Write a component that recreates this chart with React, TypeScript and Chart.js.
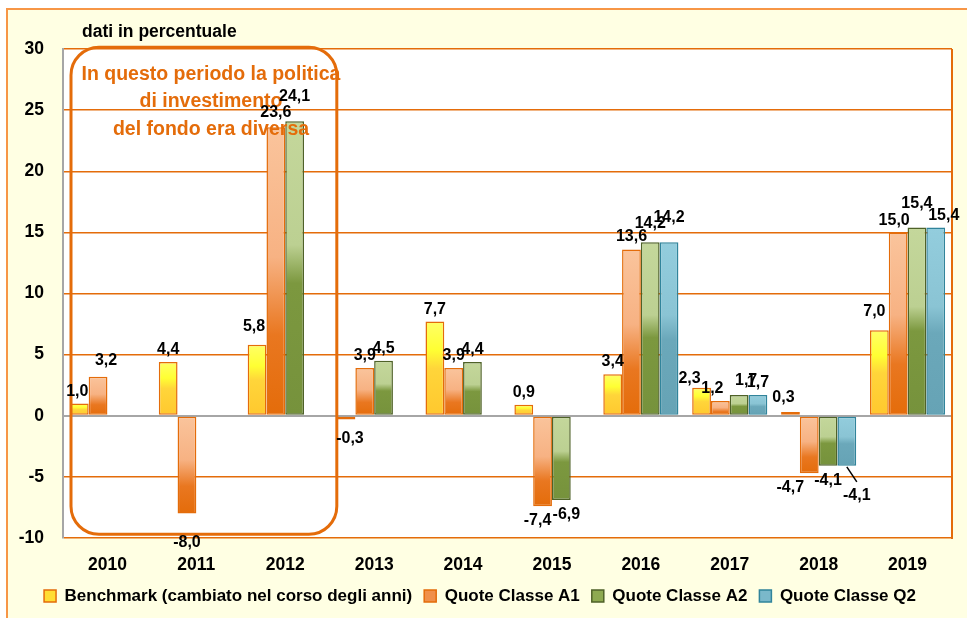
import React, { useEffect, useRef } from 'react';
import { Chart, registerables } from 'chart.js';
Chart.register(...registerables);

const categories = ['2010', '2011', '2012', '2013', '2014', '2015', '2016', '2017', '2018', '2019'];
const benchmark = [1.0, 4.4, 5.8, -0.3, 7.7, 0.9, 3.4, 2.3, 0.3, 7.0];
const classeA1 = [3.2, -8.0, 23.6, 3.9, 3.9, -7.4, 13.6, 1.2, -4.7, 15.0];
const classeA2 = [null, null, 24.1, 4.5, 4.4, -6.9, 14.2, 1.7, -4.1, 15.4];
const classeQ2 = [null, null, null, null, null, null, 14.2, 1.7, -4.1, 15.4];
const seriesNames = [
  'Benchmark (cambiato nel corso degli anni)',
  'Quote Classe A1',
  'Quote Classe A2',
  'Quote Classe Q2',
];
const yMin = -10;
const yMax = 30;
const yStep = 5;
const unitLabel = 'dati in percentuale';
const noteLines = ['In questo periodo la politica', 'di investimento', 'del fondo era diversa'];

const FONT = '"Liberation Sans", Arial, Helvetica, sans-serif';
const ORANGE = '#E46C0A';

const seriesStyles = [
  { stops: [[0, '#FFFF66'], [0.3, '#FFFF33'], [0.5, '#FFD53A'], [1, '#FFC82E']], border: '#E46C0A', legend: '#FFDD33' },
  { stops: [[0, '#FAC49C'], [0.45, '#F7B283'], [0.72, '#E97720'], [1, '#E46C0A']], border: '#E46C0A', legend: '#F0904A' },
  { stops: [[0, '#C4D79B'], [0.42, '#BCD092'], [0.55, '#7C983F'], [1, '#76923C']], border: '#4F6228', legend: '#8EAA50' },
  { stops: [[0, '#93CDDD'], [0.42, '#8AC4D4'], [0.56, '#6BA8BA'], [1, '#66A3B5']], border: '#31849B', legend: '#7AB8CA' },
] as const;

// label nudges [dataset][index] -> [dx, dy]
const labelNudges: Record<string, [number, number]> = {
  '0-0': [-2, 0],
  '1-0': [8, -4],
  '0-2': [-3, -6],
  '1-1': [0, 14],
  '1-2': [0, -2],
  '2-2': [0, -12],
  '0-3': [4, 5],
  '0-7': [-12, 3],
  '0-8': [-7, -2],
  '0-9': [-5, -6],
  '1-5': [-5, 0],
  '2-5': [5, 0],
  '1-7': [-8, 0],
  '2-7': [7, -2],
  '1-8': [-19, 0],
  '3-8': [10, 15],
  '2-6': [0, -6],
  '3-6': [0, -12],
  '1-9': [-4, 1],
  '2-9': [0, -11],
  '3-9': [8, 1],
};

const fmt = (v: number) => v.toFixed(1).replace('.', ',');

const overlayPlugin = {
  id: 'overlay',
  beforeDraw(chart: any) {
    const { ctx, chartArea: a } = chart;
    ctx.save();
    ctx.fillStyle = '#FFFFFF';
    ctx.fillRect(a.left, a.top, a.right - a.left, a.bottom - a.top);
    ctx.restore();
  },
  afterDatasetsDraw(chart: any) {
    const { ctx, chartArea: a } = chart;
    const xs = chart.scales.x;
    const ys = chart.scales.y;
    ctx.save();
    // right border of plot
    ctx.strokeStyle = ORANGE;
    ctx.lineWidth = 2;
    ctx.beginPath();
    ctx.moveTo(a.right, a.top);
    ctx.lineTo(a.right, a.bottom + 1);
    ctx.stroke();

    // unit label
    ctx.fillStyle = '#000';
    ctx.font = `bold 17.5px ${FONT}`;
    ctx.textAlign = 'left';
    ctx.textBaseline = 'middle';
    ctx.fillText(unitLabel, a.left + 19, a.top - 17);

    // annotation box
    const bl = xs.getPixelForValue(-0.41);
    const br = xs.getPixelForValue(2.58);
    const bt = ys.getPixelForValue(30.15);
    const bb = ys.getPixelForValue(-9.7);
    ctx.strokeStyle = ORANGE;
    ctx.lineWidth = 3;
    ctx.beginPath();
    (ctx as any).roundRect(bl, bt, br - bl, bb - bt, 28);
    ctx.stroke();
    ctx.fillStyle = ORANGE;
    ctx.font = `bold 19.5px ${FONT}`;
    ctx.textAlign = 'center';
    ctx.textBaseline = 'middle';
    noteLines.forEach((t, i) => {
      ctx.fillText(t, bl + 140, bt + 27 + i * 27.5);
    });

    // data labels
    ctx.fillStyle = '#000';
    ctx.font = `bold 16px ${FONT}`;
    ctx.textAlign = 'center';
    ctx.textBaseline = 'alphabetic';
    chart.data.datasets.forEach((ds: any, di: number) => {
      const meta = chart.getDatasetMeta(di);
      meta.data.forEach((el: any, i: number) => {
        const v = ds.data[i];
        if (v === null || v === undefined) return;
        const [dx, dy] = labelNudges[`${di}-${i}`] || [0, 0];
        const y = v >= 0 ? el.y - 8 + dy : el.y + 19 + dy;
        if (di === 3 && i === 8) {
          ctx.strokeStyle = '#000';
          ctx.lineWidth = 1.5;
          ctx.beginPath();
          ctx.moveTo(el.x, el.y + 1);
          ctx.lineTo(el.x + dx, el.y + 16);
          ctx.stroke();
        }
        ctx.fillText(fmt(v), el.x + dx, y);
      });
    });
    ctx.restore();
  },
};

function makeBg(idx: number) {
  const st = seriesStyles[idx];
  return (c: any) => {
    if (c.type !== 'data' || c.raw === null || c.raw === undefined) return st.legend;
    const chart = c.chart;
    const ys = chart.scales && chart.scales.y;
    if (!ys) return st.legend;
    const v = c.raw as number;
    const t = ys.getPixelForValue(Math.max(v, 0));
    const b = ys.getPixelForValue(Math.min(v, 0));
    if (!isFinite(t) || !isFinite(b) || Math.abs(b - t) < 0.5) return st.legend;
    const g = chart.ctx.createLinearGradient(0, t, 0, b);
    st.stops.forEach(([o, col]) => g.addColorStop(o as number, col as string));
    return g;
  };
}

export default function App() {
  const ref = useRef<HTMLCanvasElement | null>(null);
  useEffect(() => {
    const prevOverflow = document.body.style.overflow;
    document.body.style.overflow = 'hidden';
    if (!ref.current) return;
    const series = [benchmark, classeA1, classeA2, classeQ2];
    const chart = new Chart(ref.current, {
      type: 'bar',
      data: {
        labels: categories,
        datasets: series.map((d, i) => ({
          label: seriesNames[i],
          data: d,
          backgroundColor: makeBg(i),
          borderColor: seriesStyles[i].border,
          borderWidth: 1.5,
          borderSkipped: false,
          categoryPercentage: 0.845,
          barPercentage: 1.0,
        })),
      },
      options: {
        responsive: false,
        animation: false,
        devicePixelRatio: 1,
        layout: { padding: { left: 0, right: 15, top: 39, bottom: 15.5 } },
        font: { family: FONT },
        scales: {
          x: {
            grid: { display: false, drawTicks: false },
            border: { display: false },
            ticks: { color: '#000', font: { family: FONT, size: 17.5, weight: 'bold' }, padding: 17 },
            afterFit: (s: any) => { s.height = 37.5; },
          },
          y: {
            min: yMin,
            max: yMax,
            ticks: {
              stepSize: yStep,
              color: '#000',
              font: { family: FONT, size: 17.5, weight: 'bold' },
              padding: 19,
            },
            grid: {
              drawTicks: false,
              color: (c: any) => (c.tick && c.tick.value === 0 ? '#A6A6A6' : ORANGE),
              lineWidth: (c: any) => (c.tick && c.tick.value === 0 ? 2 : 1.5),
            },
            border: { color: '#A6A6A6', width: 2 },
            afterFit: (s: any) => { s.width = 55; },
          },
        },
        plugins: {
          legend: {
            position: 'bottom',
            labels: {
              color: '#000',
              font: { family: FONT, size: 17, weight: 'bold' },
              boxWidth: 12,
              boxHeight: 12,
              padding: 12,
              generateLabels: () =>
                seriesNames.map((n, i) => ({
                  text: n,
                  fillStyle: seriesStyles[i].legend,
                  strokeStyle: seriesStyles[i].border,
                  lineWidth: 1.5,
                  datasetIndex: i,
                  hidden: false,
                  fontColor: '#000',
                })),
            },
          },
          tooltip: { enabled: false },
          title: { display: false },
        },
      },
      plugins: [overlayPlugin],
    } as any);
    return () => {
      chart.destroy();
      document.body.style.overflow = prevOverflow;
    };
  }, []);

  return (
    <div
      style={{
        position: 'absolute',
        left: 6,
        top: 8,
        width: 961,
        height: 610,
        overflow: 'hidden',
        boxSizing: 'border-box',
        borderLeft: '2px solid #F79646',
        borderTop: '2px solid #F79646',
        background: '#FFFFE3',
      }}
    >
      <canvas ref={ref} width={959} height={620} style={{ display: 'block' }} />
    </div>
  );
}
